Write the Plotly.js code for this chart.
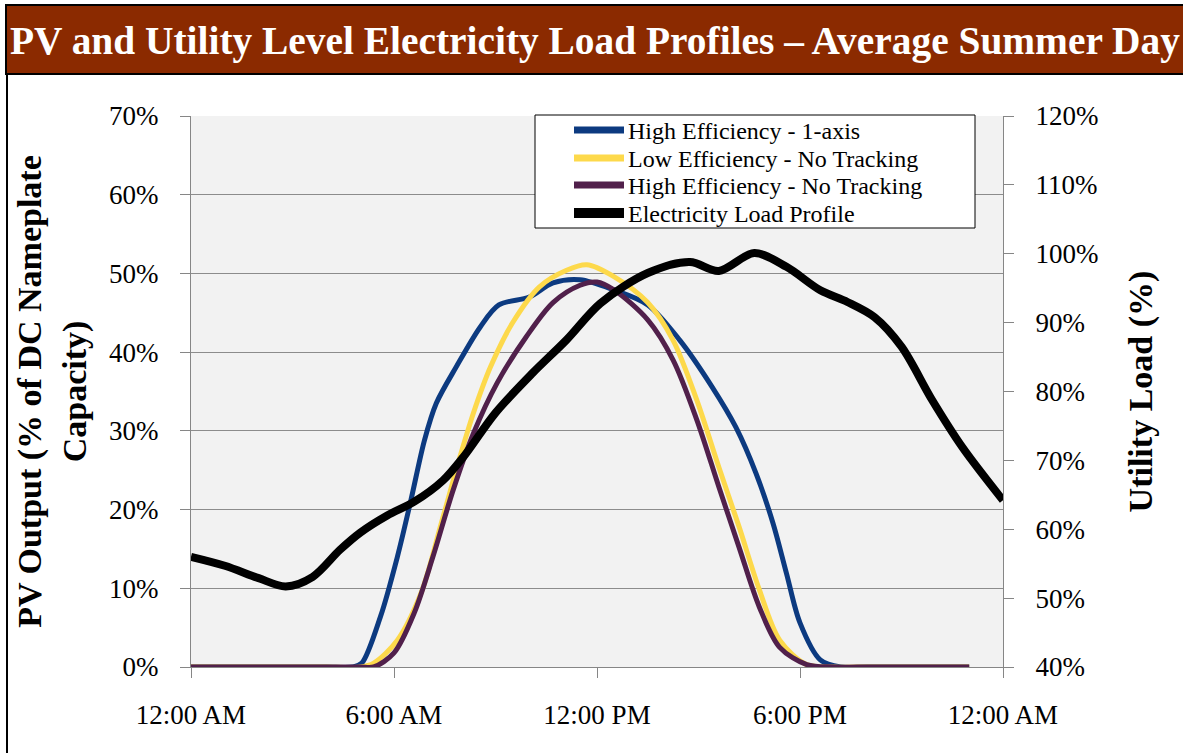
<!DOCTYPE html>
<html>
<head>
<meta charset="utf-8">
<script src="https://cdn.plot.ly/plotly-3.0.1.min.js"></script>
<style>
  html, body { margin: 0; padding: 0; background: #ffffff; }
  #chart { width: 1183px; height: 753px; }
</style>
</head>
<body>
<div id="chart"></div>
<script>
// ---- Data (hours of day, percentages) ----
const tickHours = [0, 6, 12, 18, 24];
const tickLabels = ["12:00 AM", "6:00 AM", "12:00 PM", "6:00 PM", "12:00 AM"];

const seriesNames = [
  "High Efficiency - 1-axis",
  "Low Efficiency - No Tracking",
  "High Efficiency - No Tracking",
  "Electricity Load Profile"
];

// High Efficiency - 1-axis (left axis, % of DC nameplate)
const hiEff1AxisHours = [0, 1, 2, 3, 4, 4.8, 5.05, 5.6, 6.1, 6.5, 6.9, 7.25, 7.85, 8.55, 9.1, 10.0, 10.7, 11.5, 12.5, 13.5, 14.45, 15.4, 16.1, 16.7, 17.2, 17.6, 18.0, 18.6, 19.2, 20, 21, 22, 23];
const hiEff1AxisPct   = [0, 0, 0, 0, 0, 0, 0.5, 6.4, 14.0, 21.2, 28.8, 33.5, 38.2, 43.2, 46.0, 47.0, 48.8, 49.2, 47.9, 46.0, 41.5, 35.6, 30.5, 24.6, 18.3, 11.9, 5.6, 0.9, 0, 0, 0, 0, 0];

// Low Efficiency - No Tracking
const lowEffNoTrackHours = [0, 1, 2, 3, 4, 5, 5.4, 6.1, 6.8, 7.4, 7.95, 8.35, 8.85, 9.5, 10.3, 11.1, 11.7, 12.5, 13.5, 14.25, 14.95, 15.6, 16.2, 16.8, 17.4, 18.2, 19, 20, 21, 22, 23];
const lowEffNoTrackPct   = [0, 0, 0, 0, 0, 0, 0.5, 3.4, 9.4, 18.3, 26.7, 32.3, 38.1, 43.7, 48.3, 50.4, 51.1, 49.6, 46.3, 41.5, 33.9, 25.4, 17.8, 9.8, 3.4, 0.3, 0, 0, 0, 0, 0];

// High Efficiency - No Tracking
const hiEffNoTrackHours = [0, 1, 2, 3, 4, 5, 5.4, 6.0, 6.6, 7.15, 7.75, 8.35, 9.05, 9.9, 10.7, 11.5, 12.0, 12.5, 13.5, 14.25, 14.95, 15.6, 16.2, 16.8, 17.4, 18.2, 19, 20, 21, 22, 23];
const hiEffNoTrackPct   = [0, 0, 0, 0, 0, 0, 0, 1.8, 6.9, 14.0, 22.5, 29.7, 36.1, 41.9, 46.3, 48.5, 48.9, 47.9, 44.1, 39.0, 31.4, 22.9, 15.2, 7.6, 2.5, 0.3, 0, 0, 0, 0, 0];

// Electricity Load Profile (right axis, utility load %)
const loadHours = [0, 1, 2, 2.8, 3.6, 4.4, 5.0, 5.8, 6.6, 7.45, 8.05, 9.0, 10.1, 11.1, 12.1, 13.5, 14.75, 15.6, 16.65, 17.6, 18.6, 19.4, 20.2, 21.0, 21.9, 22.8, 24];
const loadPct   = [56.0, 54.7, 52.9, 51.7, 53.1, 57.0, 59.5, 62.0, 64.0, 67.1, 70.5, 76.9, 82.7, 87.5, 92.8, 97.2, 98.8, 97.5, 100.1, 98.1, 94.7, 93.0, 90.8, 86.5, 78.8, 71.9, 64.2];

const colors = ["#0c3a80", "#fdd94b", "#51204b", "#000000"];

// ---- Helpers ----
const W = 1183, H = 753;
const L = 191, R = 180, T = 116, B = 86;
const pw = W - L - R, ph = H - T - B;
const px = x => (x - L) / pw;           // pixel -> paper x
const py = y => (H - B - y) / ph;       // pixel -> paper y

const serif = "Liberation Serif, Times New Roman, serif";

const traces = [
  { x: hiEff1AxisHours, y: hiEff1AxisPct, name: seriesNames[0], color: colors[0], w: 5, axis: "y" },
  { x: lowEffNoTrackHours, y: lowEffNoTrackPct, name: seriesNames[1], color: colors[1], w: 5, axis: "y" },
  { x: hiEffNoTrackHours, y: hiEffNoTrackPct, name: seriesNames[2], color: colors[2], w: 5, axis: "y" },
  { x: loadHours, y: loadPct, name: seriesNames[3], color: colors[3], w: 8, axis: "y2" }
].map(s => ({
  type: "scatter",
  mode: "lines",
  x: s.x,
  y: s.y,
  name: s.name,
  yaxis: s.axis,
  line: { color: s.color, width: s.w, shape: "spline", smoothing: 0.9 },
  hoverinfo: "x+y+name"
}));

const axisGray = "#868686";

// Legend (box, sample lines, labels) in paper space
const legendBox = { left: 535, right: 975, top: 115, bottom: 228 };
const legendRowY = [130, 158, 185, 213];
const legendShapes = [{
  type: "rect", xref: "paper", yref: "paper", layer: "above",
  x0: px(legendBox.left), x1: px(legendBox.right),
  y0: py(legendBox.bottom), y1: py(legendBox.top),
  fillcolor: "#ffffff", line: { color: "#000000", width: 1 }
}].concat(seriesNames.map((n, i) => ({
  type: "line", xref: "paper", yref: "paper", layer: "above",
  x0: px(574), x1: px(624), y0: py(legendRowY[i]), y1: py(legendRowY[i]),
  line: { color: colors[i], width: i === 3 ? 10 : 7 }
})));
const legendAnnotations = seriesNames.map((n, i) => ({
  text: n,
  xref: "paper", yref: "paper",
  x: px(626), y: py(legendRowY[i] + 1),
  xanchor: "left", yanchor: "middle",
  showarrow: false,
  font: { family: serif, size: 24, color: "#000" }
}));

const layout = {
  width: W,
  height: H,
  margin: { l: L, r: R, t: T, b: B, pad: 0 },
  paper_bgcolor: "#ffffff",
  plot_bgcolor: "#f2f2f2",
  font: { family: serif, color: "#000000" },
  title: {
    text: "PV and Utility Level Electricity Load Profiles \u2013 Average Summer Day",
    font: { family: serif, size: 39.4, color: "#ffffff", weight: 700 },
    x: 10 / W,
    xref: "container",
    xanchor: "left",
    y: 1 - 40 / H,
    yref: "container",
    yanchor: "middle"
  },
  xaxis: {
    range: [0, 24],
    tickmode: "array",
    tickvals: tickHours,
    ticktext: tickLabels,
    showgrid: false,
    zeroline: false,
    showline: true,
    linecolor: axisGray,
    linewidth: 1,
    ticks: "outside",
    ticklen: 10,
    tickcolor: axisGray,
    tickfont: { family: serif, size: 27, color: "#000" },
    ticklabelstandoff: 14,
    fixedrange: true
  },
  yaxis: {
    range: [0, 70],
    dtick: 10,
    tick0: 0,
    ticksuffix: "%",
    showgrid: true,
    gridcolor: "#8c8c8c",
    gridwidth: 1,
    zeroline: false,
    showline: true,
    linecolor: axisGray,
    linewidth: 1,
    ticks: "outside",
    ticklen: 10,
    tickcolor: axisGray,
    tickfont: { family: serif, size: 27, color: "#000" },
    ticklabelstandoff: 16,
    title: {
      text: "PV Output (% of DC Nameplate<br>Capacity)",
      font: { family: serif, size: 34, color: "#000", weight: 700 },
      standoff: 12
    },
    fixedrange: true
  },
  yaxis2: {
    overlaying: "y",
    side: "right",
    range: [40, 120],
    dtick: 10,
    tick0: 40,
    ticksuffix: "%",
    showgrid: false,
    zeroline: false,
    showline: true,
    linecolor: axisGray,
    linewidth: 1,
    ticks: "outside",
    ticklen: 10,
    tickcolor: axisGray,
    tickfont: { family: serif, size: 27, color: "#000" },
    ticklabelstandoff: 16,
    title: {
      text: "Utility Load (%)",
      font: { family: serif, size: 34, color: "#000", weight: 700 },
      standoff: 30
    },
    fixedrange: true
  },
  showlegend: false,
  annotations: legendAnnotations,
  shapes: [
    // title banner
    {
      type: "rect", xref: "paper", yref: "paper", layer: "above",
      x0: px(6), x1: px(1195), y0: py(74), y1: py(5),
      fillcolor: "#8b2a00", line: { color: "#000000", width: 2 }
    },
    // left frame edge
    {
      type: "line", xref: "paper", yref: "paper", layer: "above",
      x0: px(7), x1: px(7), y0: py(74), y1: py(760),
      line: { color: "#000000", width: 2 }
    }
  ].concat(legendShapes)
};

Plotly.newPlot("chart", traces, layout, { displayModeBar: false, staticPlot: true });
</script>
</body>
</html>
